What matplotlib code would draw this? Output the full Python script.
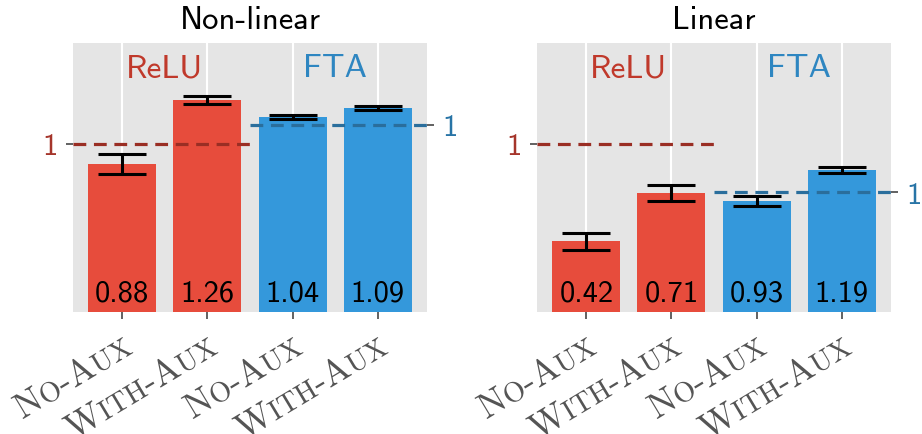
import numpy as np
import matplotlib
matplotlib.use('Agg')
import matplotlib.pyplot as plt
import matplotlib.transforms as mtransforms
from matplotlib import font_manager
from matplotlib.font_manager import FontProperties
from matplotlib.textpath import TextPath
from matplotlib.path import Path
from matplotlib.patches import PathPatch

plt.rcParams['font.family'] = 'cmss10'
plt.rcParams['axes.unicode_minus'] = False

# panels and bars
panels = ['Non-linear', 'Linear']
archs = ['ReLU', 'FTA']
conditions = ['No-Aux', 'With-Aux', 'No-Aux', 'With-Aux']

# reference level ("1") of each architecture, in ReLU reference units
relu_ref = [1.0, 1.0]
fta_ref = [1.115, 0.711]

# ratios to the reference level (ReLU no-aux, ReLU with-aux, FTA no-aux, FTA with-aux)
ratios = [[0.88, 1.26, 1.04, 1.09],
          [0.42, 0.71, 0.93, 1.19]]
errors = [[0.058, 0.022, 0.010, 0.010],
          [0.050, 0.048, 0.042, 0.027]]

red, blue = '#e74c3c', '#3498db'
red_txt, blue_txt = '#c0392b', '#2e86c1'
red_line, blue_line = '#9a2e24', '#2a6e9c'
grey = '#555555'

serif = FontProperties(family='cmr10')
serif_font = font_manager.get_font(font_manager.findfont(serif))


def smallcaps_path(word, size, ratio=0.78):
    # capitals at full size, lower case letters as reduced capitals
    parts = []
    x = 0.0
    for ch in word:
        s = size * ratio if ch.islower() else size
        glyph = ch.upper()
        parts.append(TextPath((x, 0), glyph, size=s, prop=serif))
        serif_font.set_size(s, 72)
        x += serif_font.load_char(ord(glyph)).linearHoriAdvance / 65536
    return Path.make_compound_path(*parts)


def draw_xlabels(fig, ax, labels, angle=31, size=26):
    px = fig.dpi / 72
    base = mtransforms.blended_transform_factory(ax.transData, ax.transAxes)
    for i, lab in enumerate(labels):
        path = smallcaps_path(lab, size)
        rot = mtransforms.Affine2D().rotate_deg(angle).scale(px)
        bb = path.transformed(rot).get_extents()
        tr = (rot + mtransforms.Affine2D().translate(-bb.x1 + 11, -bb.y1 - 25)
              + mtransforms.ScaledTranslation(i, 0, base))
        ax.add_artist(PathPatch(path, transform=tr, fc=grey, ec='none', clip_on=False))


fig = plt.figure(figsize=(9.22, 4.35), dpi=100)
positions = [[73 / 922, 122 / 435, 354 / 922, 269 / 435],
             [537 / 922, 122 / 435, 354 / 922, 269 / 435]]

x = np.arange(4)
for k, name in enumerate(panels):
    ax = fig.add_axes(positions[k])
    ax.set_facecolor('#e5e5e5')
    for s in ax.spines.values():
        s.set_visible(False)

    refs = [relu_ref[k], relu_ref[k], fta_ref[k], fta_ref[k]]
    heights = [r * b for r, b in zip(ratios[k], refs)]
    yerr = [e * b for e, b in zip(errors[k], refs)]

    ax.bar(x, heights, width=0.8, color=[red, red, blue, blue], zorder=2)
    ax.errorbar(x, heights, yerr=yerr, fmt='none', ecolor='black',
                elinewidth=2.2, capsize=17, capthick=2.2, zorder=4)

    ax.set_xlim(-0.58, 3.58)
    ax.set_ylim(0, 1.6)

    ax.hlines(relu_ref[k], -0.58, 1.5, colors=red_line, linestyles=(0, (4, 2.4)),
              lw=2.3, zorder=3)
    ax.hlines(fta_ref[k], 1.5, 3.58, colors=blue_line, linestyles=(0, (4, 2.4)),
              lw=2.3, zorder=3)

    for xi, r in zip(x, ratios[k]):
        ax.annotate(f'{r:.2f}', (xi, 0), xytext=(0, 8), textcoords='offset points',
                    ha='center', va='baseline', fontsize=22, zorder=5)

    blend = mtransforms.blended_transform_factory(ax.transData, ax.transAxes)
    ax.text(0.5, 0.877, archs[0], transform=blend, ha='center', va='baseline',
            color=red_txt, fontsize=24)
    ax.text(2.5, 0.877, archs[1], transform=blend, ha='center', va='baseline',
            color=blue_txt, fontsize=24)

    ax.set_axisbelow(True)
    ax.grid(axis='x', color='white', lw=1.5)
    ax.set_xticks(x)
    ax.set_xticklabels([])
    ax.tick_params(axis='x', length=5, width=1.3, color=grey)
    ax.set_yticks([relu_ref[k]])
    ax.set_yticklabels(['1'])
    ax.tick_params(axis='y', length=5, width=1.3, color=grey, labelcolor='#a5352b',
                   labelsize=22, pad=6)

    ax2 = ax.twinx()
    for s in ax2.spines.values():
        s.set_visible(False)
    ax2.set_ylim(0, 1.6)
    ax2.set_yticks([fta_ref[k]])
    ax2.set_yticklabels(['1'])
    ax2.tick_params(axis='y', length=5, width=1.3, color=grey, labelcolor='#2874a6',
                    labelsize=22, pad=6)

    ax.set_title(name, fontsize=23.5, pad=11)
    draw_xlabels(fig, ax, conditions)

fig.savefig('out.png', dpi=100)
